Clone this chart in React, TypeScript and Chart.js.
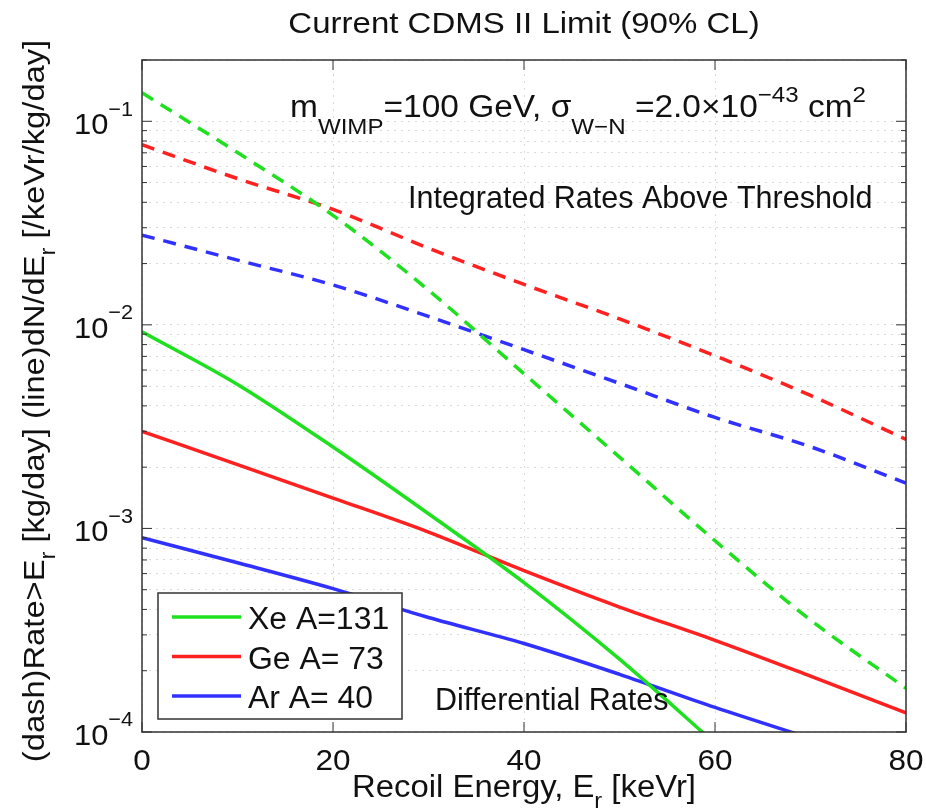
import { useEffect, useRef } from "react";
import { Chart, registerables } from "chart.js";

Chart.register(...registerables);

// recoil energy grid, keVr
const energy = [0, 10, 20, 30, 40, 50, 60, 70, 80];

// integrated rates above threshold (dashed), /kg/day
const xeIntegrated = [0.138, 0.0702, 0.0345, 0.0148, 0.00575, 0.00224, 0.00087, 0.000355, 0.000164];
const geIntegrated = [0.0767, 0.0523, 0.0369, 0.0238, 0.0158, 0.0107, 0.00705, 0.0045, 0.00274];
const arIntegrated = [0.0276, 0.0208, 0.0157, 0.011, 0.00755, 0.00516, 0.00351, 0.00252, 0.00167];

// differential rates (solid), /keVr/kg/day
const xeDifferential = [0.00925, 0.0051, 0.00251, 0.00118, 0.000542, 0.000228, 0.000088];
const geDifferential = [0.003, 0.00206, 0.00141, 0.00096, 0.00062, 0.000411, 0.000282, 0.000188, 0.000124];
const arDifferential = [0.0009, 0.000678, 0.000506, 0.000365, 0.000272, 0.000192, 0.000132, 0.000093];

const legendLabels = ["Xe A=131", "Ge A= 73", "Ar A= 40"];
const seriesColors = ["#1fe01f", "#ff2020", "#3030ff"];

const xTicks = [0, 20, 40, 60, 80];
const yDecades = [-4, -3, -2, -1];

const FONT = "'Liberation Sans', Arial, Helvetica, sans-serif";

type Piece = { text: string; scale?: number; rise?: number };

function richWidth(ctx: CanvasRenderingContext2D, pieces: Piece[], size: number) {
  let w = 0;
  for (const p of pieces) {
    ctx.font = `${size * (p.scale ?? 1)}px ${FONT}`;
    w += ctx.measureText(p.text).width;
  }
  return w;
}

// draws text runs with sub/superscripts; hs stretches it horizontally
function drawRich(
  ctx: CanvasRenderingContext2D,
  pieces: Piece[],
  x: number,
  y: number,
  size: number,
  align: "left" | "center" | "right" = "left",
  hs = 1
) {
  const w = richWidth(ctx, pieces, size) * hs;
  const x0 = align === "left" ? x : align === "center" ? x - w / 2 : x - w;
  ctx.save();
  ctx.translate(x0, y);
  ctx.scale(hs, 1);
  ctx.textAlign = "left";
  ctx.textBaseline = "alphabetic";
  let cx = 0;
  for (const p of pieces) {
    ctx.font = `${size * (p.scale ?? 1)}px ${FONT}`;
    ctx.fillText(p.text, cx, -(p.rise ?? 0) * size);
    cx += ctx.measureText(p.text).width;
  }
  ctx.restore();
}

const toPoints = (ys: number[]) => ys.map((y, i) => ({ x: energy[i], y }));

const yTickValues: number[] = [];
yDecades.forEach((d) => {
  for (let m = 1; m <= 9; m++) {
    const v = m * Math.pow(10, d);
    if (v <= 0.2 + 1e-9) yTickValues.push(v);
  }
});

const decorPlugin = {
  id: "decor",
  afterDatasetsDraw(chart: any) {
    const ctx: CanvasRenderingContext2D = chart.ctx;
    const { left, right, top, bottom } = chart.chartArea;
    const xs = chart.scales.x;
    const ys = chart.scales.y;
    ctx.save();

    // legend box
    const lx = left + 16;
    const ly = bottom - 139;
    ctx.fillStyle = "#fff";
    ctx.fillRect(lx, ly, 244, 126);
    ctx.strokeStyle = "#333";
    ctx.lineWidth = 1.5;
    ctx.strokeRect(lx, ly, 244, 126);
    legendLabels.forEach((label, i) => {
      const cy = ly + 24 + i * 39.5;
      ctx.strokeStyle = seriesColors[i];
      ctx.lineWidth = 3.5;
      ctx.beginPath();
      ctx.moveTo(lx + 14, cy);
      ctx.lineTo(lx + 83, cy);
      ctx.stroke();
      ctx.fillStyle = "#111";
      drawRich(ctx, [{ text: label }], lx + 90, cy + 12, 31, "left", 1.03);
    });

    // axes box
    ctx.strokeStyle = "#333";
    ctx.lineWidth = 1.5;
    ctx.strokeRect(left, top, right - left, bottom - top);

    // inward ticks
    ctx.lineWidth = 1;
    yTickValues.forEach((v) => {
      const py = ys.getPixelForValue(v);
      const len = Math.abs(Math.log10(v) - Math.round(Math.log10(v))) < 1e-6 ? 10 : 5;
      ctx.beginPath();
      ctx.moveTo(left, py);
      ctx.lineTo(left + len, py);
      ctx.moveTo(right, py);
      ctx.lineTo(right - len, py);
      ctx.stroke();
    });
    xTicks.forEach((v) => {
      const px = xs.getPixelForValue(v);
      ctx.beginPath();
      ctx.moveTo(px, bottom);
      ctx.lineTo(px, bottom - 10);
      ctx.moveTo(px, top);
      ctx.lineTo(px, top + 10);
      ctx.stroke();
    });

    // tick labels
    ctx.fillStyle = "#111";
    xTicks.forEach((v) => {
      drawRich(ctx, [{ text: String(v) }], xs.getPixelForValue(v), bottom + 38, 30, "center", 1.05);
    });
    yDecades.forEach((d) => {
      const py = ys.getPixelForValue(Math.pow(10, d));
      drawRich(
        ctx,
        [{ text: "10" }, { text: "\u2212" + Math.abs(d), scale: 0.7, rise: 0.62 }],
        left - 9,
        py + 13,
        30,
        "right",
        1.03
      );
    });

    // title
    drawRich(ctx, [{ text: "Current CDMS II Limit (90% CL)" }], (left + right) / 2, 33, 30, "center", 1.1);

    // parameters
    drawRich(
      ctx,
      [
        { text: "m" },
        { text: "WIMP", scale: 0.72, rise: -0.55 },
        { text: "=100 GeV, " },
        { text: "\u03c3" },
        { text: "W\u2212N", scale: 0.72, rise: -0.55 },
        { text: " =2.0\u00d710" },
        { text: "\u221243", scale: 0.72, rise: 0.5 },
        { text: " cm" },
        { text: "2", scale: 0.72, rise: 0.5 },
      ],
      left + 148,
      top + 57,
      31,
      "left",
      1.08
    );

    // annotations
    drawRich(ctx, [{ text: "Integrated Rates Above Threshold" }], left + 266, top + 148, 30.5);
    drawRich(ctx, [{ text: "Differential Rates" }], left + 293, bottom - 22, 30.5);

    // axis titles
    drawRich(
      ctx,
      [{ text: "Recoil Energy, E" }, { text: "r", scale: 0.72, rise: -0.35 }, { text: " [keVr]" }],
      (left + right) / 2,
      bottom + 65,
      31,
      "center",
      1.06
    );
    ctx.save();
    ctx.translate(44, 401);
    ctx.rotate(-Math.PI / 2);
    drawRich(
      ctx,
      [
        { text: "(dash)Rate>E" },
        { text: "r", scale: 0.72, rise: -0.35 },
        { text: " [kg/day] (line)dN/dE" },
        { text: "r", scale: 0.72, rise: -0.35 },
        { text: " [/keVr/kg/day]" },
      ],
      0,
      0,
      30,
      "center",
      1.09
    );
    ctx.restore();

    ctx.restore();
  },
};

export default function App() {
  const chartRef = useRef<HTMLCanvasElement | null>(null);
  const chartInstance = useRef<Chart | null>(null);

  useEffect(() => {
    if (!chartRef.current) return;
    if (chartInstance.current) chartInstance.current.destroy();

    const solid = (label: string, data: number[], color: string) => ({
      label,
      data: toPoints(data),
      borderColor: color,
      backgroundColor: color,
      borderWidth: 3.5,
      pointRadius: 0,
      cubicInterpolationMode: "monotone" as const,
    });
    const dashed = (label: string, data: number[], color: string) => ({
      ...solid(label, data, color),
      borderDash: [13, 9],
    });

    chartInstance.current = new Chart(chartRef.current, {
      type: "line",
      data: {
        datasets: [
          dashed("Xe integrated", xeIntegrated, seriesColors[0]),
          dashed("Ge integrated", geIntegrated, seriesColors[1]),
          dashed("Ar integrated", arIntegrated, seriesColors[2]),
          solid(legendLabels[0], xeDifferential, seriesColors[0]),
          solid(legendLabels[1], geDifferential, seriesColors[1]),
          solid(legendLabels[2], arDifferential, seriesColors[2]),
        ],
      },
      options: {
        animation: false,
        responsive: true,
        maintainAspectRatio: false,
        layout: { padding: { top: 60, right: 20, bottom: 0, left: 0 } },
        plugins: {
          legend: { display: false },
          title: { display: false },
          tooltip: { enabled: false },
        },
        scales: {
          x: {
            type: "linear",
            min: 0,
            max: 80,
            ticks: { display: false, stepSize: 20 },
            grid: { color: "rgba(0,0,0,0.15)", drawTicks: false },
            border: { display: false, dash: [2, 5] },
            afterFit: (scale: any) => {
              scale.height = 78;
            },
          },
          y: {
            type: "logarithmic",
            min: 1e-4,
            max: 0.2,
            ticks: { display: false, autoSkip: false },
            grid: { color: "rgba(0,0,0,0.14)", drawTicks: false },
            border: { display: false, dash: [2, 5] },
            afterBuildTicks: (scale: any) => {
              scale.ticks = yTickValues.map((v) => ({ value: v }));
            },
            afterFit: (scale: any) => {
              scale.width = 142;
            },
          },
        },
      },
      plugins: [decorPlugin],
    });

    return () => {
      if (chartInstance.current) {
        chartInstance.current.destroy();
        chartInstance.current = null;
      }
    };
  }, []);

  return (
    <div style={{ position: "fixed", left: 0, top: 0, width: 926, height: 810, background: "#fff" }}>
      <canvas ref={chartRef} />
    </div>
  );
}
